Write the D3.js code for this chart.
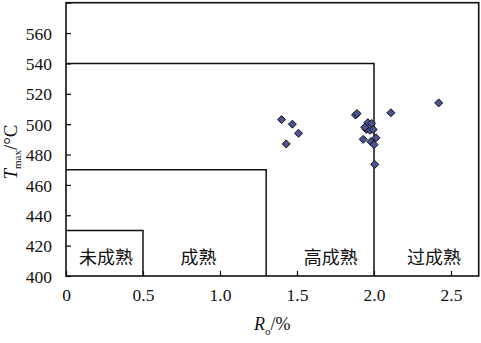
<!DOCTYPE html>
<html>
<head>
<meta charset="utf-8">
<script src="https://cdn.jsdelivr.net/npm/d3@7/dist/d3.min.js"></script>
<style>
  html, body { margin: 0; padding: 0; background: #fff; }
  svg { display: block; }
</style>
</head>
<body>
<svg id="chart" width="481" height="343"></svg>
<script>
// Vitrinite reflectance Ro (%) and Tmax (°C) of samples
const roValues   = [1.40, 1.47, 1.51, 1.43, 1.88, 1.89, 2.11, 2.42,
                    1.96, 1.985, 1.95, 1.975, 1.995, 1.93, 1.98, 2.013, 2.0, 2.005, 1.94];
const tmaxValues = [503, 500, 494, 487, 506, 507, 507.5, 514,
                    501, 500.5, 496.5, 496, 496.5, 490, 488.5, 491, 486.5, 473.5, 498];

// Maturity zones: upper Ro bound and upper Tmax bound of each zone
const zoneNames = ["未成熟", "成熟", "高成熟", "过成熟"];
const zoneRo    = [0.5, 1.3, 2.0];
const zoneTmax  = [430, 470, 540];
const zoneLabelRo = [0.26, 0.86, 1.72, 2.39];

const xTicks = [0, 0.5, 1.0, 1.5, 2.0, 2.5];
const xTickLabels = ["0", "0.5", "1.0", "1.5", "2.0", "2.5"];
const yTicks = [400, 420, 440, 460, 480, 500, 520, 540, 560, 580];

const svg = d3.select("#chart");
const margin = { left: 66, top: 2.7, right: 2.3, bottom: 67 };
const W = 481, H = 343;

const x = d3.scaleLinear().domain([0, 2.68]).range([margin.left, W - margin.right]);
const y = d3.scaleLinear().domain([400, 580]).range([H - margin.bottom, margin.top]);

const serif = "'Liberation Serif', 'Times New Roman', serif";
const cjk = "'Noto Sans CJK SC', sans-serif";

// Axes with inward ticks
const yAxis = d3.axisLeft(y).tickValues(yTicks).tickSizeInner(-5).tickSizeOuter(0)
  .tickFormat(d => d === 580 ? "" : d);
const gy = svg.append("g").attr("transform", `translate(${margin.left},0)`).call(yAxis);
gy.select(".domain").remove();
gy.selectAll("line").attr("stroke", "#000").attr("stroke-width", 1.2);
gy.selectAll("text").attr("x", -14).attr("dy", "0.35em")
  .style("font-family", serif).style("font-size", "17.5px").attr("fill", "#111");

const xAxis = d3.axisBottom(x).tickValues(xTicks).tickSizeInner(-5).tickSizeOuter(0)
  .tickFormat((d, i) => xTickLabels[i]);
const gx = svg.append("g").attr("transform", `translate(0,${y(400)})`).call(xAxis);
gx.select(".domain").remove();
gx.selectAll("line").attr("stroke", "#000").attr("stroke-width", 1.2);
gx.selectAll("text").attr("y", 13).attr("dy", "0.71em")
  .style("font-family", serif).style("font-size", "17.5px").attr("fill", "#111");

// Plot frame
svg.append("rect")
  .attr("x", x(0)).attr("y", y(580))
  .attr("width", x(2.68) - x(0)).attr("height", y(400) - y(580))
  .attr("fill", "none").attr("stroke", "#111").attr("stroke-width", 1.6);

// Zone boundaries
zoneRo.forEach((r, i) => {
  svg.append("path")
    .attr("d", d3.line()([[x(0), y(zoneTmax[i])], [x(r), y(zoneTmax[i])], [x(r), y(400)]]))
    .attr("fill", "none").attr("stroke", "#111").attr("stroke-width", 1.5);
});

// Zone labels
svg.append("g").selectAll("text").data(zoneNames).join("text")
  .attr("x", (d, i) => x(zoneLabelRo[i]))
  .attr("y", y(400) - 12)
  .attr("text-anchor", "middle")
  .style("font-family", cjk).style("font-size", "18px").attr("fill", "#111")
  .text(d => d);

// Sample points (square diamonds)
const r = 4;
const diamondPath = `M0,${-r}L${r},0L0,${r}L${-r},0Z`;
svg.append("g").selectAll("path").data(roValues).join("path")
  .attr("transform", (d, i) => `translate(${x(d)},${y(tmaxValues[i])})`)
  .attr("d", diamondPath)
  .attr("fill", "#4b5490").attr("stroke", "#111").attr("stroke-width", 1);

// Axis titles
const yt = svg.append("text")
  .attr("transform", `translate(17,152) rotate(-90)`)
  .attr("text-anchor", "middle")
  .style("font-family", serif).style("font-size", "19px").attr("fill", "#111");
yt.append("tspan").attr("font-style", "italic").text("T");
yt.append("tspan").attr("dy", 4).style("font-size", "11px").text("max");
yt.append("tspan").attr("dy", -4).text("/°C");

const xt = svg.append("text")
  .attr("x", x(1.34)).attr("y", 330)
  .attr("text-anchor", "middle")
  .style("font-family", serif).style("font-size", "18px").attr("fill", "#111");
xt.append("tspan").attr("font-style", "italic").text("R");
xt.append("tspan").attr("dy", 5).style("font-size", "11px").text("o");
xt.append("tspan").attr("dy", -5).text("/%");
</script>
</body>
</html>
